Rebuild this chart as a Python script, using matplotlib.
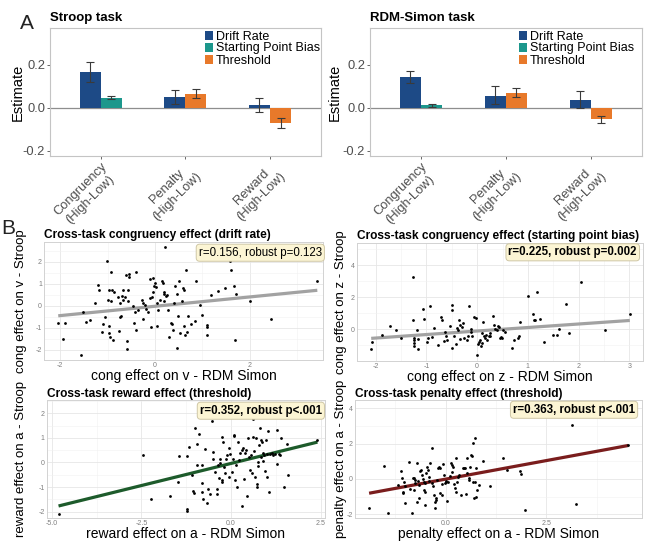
import matplotlib
matplotlib.use("Agg")
import matplotlib.pyplot as plt  # noqa: E402
import numpy as np  # noqa: E402
from matplotlib.patches import Patch  # noqa: E402
from matplotlib.ticker import (FixedLocator, FormatStrFormatter,  # noqa: E402
                               MultipleLocator)

plt.rcParams["font.family"] = ["Liberation Sans", "DejaVu Sans"]
plt.rcParams["axes.unicode_minus"] = False

W, H = 646, 544
nan = np.nan

# ---- panel A: parameter estimates (High - Low) ----
categories = ["Congruency\n(High-Low)", "Penalty\n(High-Low)", "Reward\n(High-Low)"]
params = ["Drift Rate", "Starting Point Bias", "Threshold"]
param_colors = ["#1d4a86", "#1c978c", "#e8792a"]

stroop_drift = [0.165, 0.048, 0.012]
stroop_drift_lo = [0.119, 0.016, -0.022]
stroop_drift_hi = [0.212, 0.082, 0.047]
stroop_bias = [0.047, nan, nan]
stroop_bias_lo = [0.039, nan, nan]
stroop_bias_hi = [0.056, nan, nan]
stroop_thresh = [nan, 0.064, -0.073]
stroop_thresh_lo = [nan, 0.044, -0.095]
stroop_thresh_hi = [nan, 0.086, -0.050]

simon_drift = [0.142, 0.056, 0.036]
simon_drift_lo = [0.114, 0.016, -0.003]
simon_drift_hi = [0.170, 0.100, 0.076]
simon_bias = [0.011, nan, nan]
simon_bias_lo = [0.005, nan, nan]
simon_bias_hi = [0.016, nan, nan]
simon_thresh = [nan, 0.070, -0.054]
simon_thresh_lo = [nan, 0.051, -0.073]
simon_thresh_hi = [nan, 0.090, -0.040]

# ---- panel B: cross-task individual effects ----
b1_x = [-2.04, -1.90, -1.94, -1.57, -1.51, -1.45, -1.38, -1.26, -1.21, -1.19,
        -1.12, -1.09, -1.05, -1.02, -1.00, -0.98, -0.98, -0.96, -0.95, -0.93,
        -0.92, -0.91, -0.89, -0.86, -0.77, -0.75, -0.74, -0.74, -0.72, -0.70,
        -0.68, -0.67, -0.63, -0.61, -0.60, -0.59, -0.58, -0.56, -0.54, -0.54,
        -0.46, -0.44, -0.42, -0.41, -0.40, -0.35, -0.28, -0.26, -0.25, -0.21,
        -0.18, -0.14, -0.11, -0.11, -0.09, -0.07, -0.05, -0.04, -0.02, 0.00,
        0.02, 0.04, 0.04, 0.07, 0.11, 0.14, 0.16, 0.18, 0.18, 0.19,
        0.21, 0.23, 0.26, 0.28, 0.30, 0.33, 0.35, 0.37, 0.39, 0.42,
        0.46, 0.47, 0.49, 0.51, 0.53, 0.56, 0.58, 0.60, 0.61, 0.63,
        0.65, 0.67, 0.69, 0.75, 0.84, 0.86, 0.95, 0.98, 1.09, 1.09,
        1.10, 1.18, 1.33, 1.47, 1.57, 1.61, 1.66, 1.68, 1.71, 2.01,
        2.44, 3.42]
b1_y = [-0.79, -0.79, -1.52, -2.24, -0.26, -0.73, -0.64, 0.15, 0.95, 0.73,
        -1.18, -0.83, -0.52, 2.03, 0.27, 0.73, -0.91, -1.24, -1.42, 0.20,
        1.56, 0.70, -1.58, 0.61, 0.42, -1.17, 0.12, -0.52, -0.48, 0.45,
        0.70, 0.27, 0.39, 1.42, -1.97, -1.59, 0.20, 0.73, 1.45, 1.30,
        0.00, -0.79, -0.30, -1.09, 1.55, -0.18, 0.27, -0.61, 0.12, 0.05,
        -0.15, -0.26, 1.21, 0.35, -0.97, 0.42, 0.65, 1.26, 0.91, 1.03,
        0.88, 0.15, -0.91, -0.18, 0.27, 1.11, 1.03, 0.55, 0.23, 0.61,
        2.67, 0.45, 0.50, -0.18, -1.44, -0.79, -0.83, -1.12, 0.12, 0.91,
        0.55, -1.94, -0.48, 1.12, -1.24, 0.20, 0.83, 0.73, -0.91, -1.32,
        1.62, -1.21, -0.48, -0.82, -0.71, 1.12, 0.05, -0.41, -0.86, -0.97,
        -1.33, 0.50, 0.68, 0.79, 2.06, 1.64, 0.91, -1.55, 0.53, 0.20,
        -0.58, 1.15]

b2_x = [-2.09, -2.07, -1.88, -1.72, -1.61, -1.51, -1.27, -1.26, -1.25, -1.25,
        -1.25, -1.24, -1.18, -1.17, -1.16, -1.07, -1.05, -0.99, -0.97, -0.93,
        -0.90, -0.86, -0.78, -0.71, -0.70, -0.66, -0.64, -0.61, -0.59, -0.53,
        -0.49, -0.49, -0.49, -0.46, -0.41, -0.39, -0.38, -0.36, -0.34, -0.33,
        -0.30, -0.28, -0.26, -0.20, -0.18, -0.16, -0.13, -0.12, -0.10, -0.07,
        -0.03, 0.00, 0.02, 0.03, 0.05, 0.07, 0.09, 0.10, 0.12, 0.13,
        0.16, 0.18, 0.20, 0.23, 0.25, 0.26, 0.32, 0.33, 0.36, 0.39,
        0.41, 0.43, 0.45, 0.47, 0.49, 0.51, 0.54, 0.69, 0.72, 0.81,
        0.82, 0.84, 1.01, 1.11, 1.12, 1.15, 1.17, 1.23, 1.32, 1.50,
        1.58, 1.61, 1.76, 1.81, 2.04, 2.52, 3.01]
b2_y = [-1.23, -0.83, -0.40, 0.17, -0.08, -0.56, 3.25, 0.58, -0.67, -0.88,
        -1.04, -0.58, -0.04, -0.63, -1.25, 1.25, 0.65, -0.83, -0.54, 1.44,
        -0.50, 0.06, -0.98, 0.79, 0.54, -0.77, -0.15, -0.46, -0.67, 0.21,
        1.50, 1.21, -1.21, -0.46, -0.92, 0.06, -0.08, 0.58, -0.63, 0.27,
        0.13, 0.38, -0.56, -0.67, -0.42, 1.48, 0.00, -0.21, -0.46, 0.75,
        0.69, -1.60, -0.92, -0.83, -0.71, -1.04, -0.88, -0.25, 0.46, -0.46,
        -0.56, -0.35, -0.67, -0.46, -0.42, -0.25, 0.83, 0.27, 0.00, -0.08,
        0.17, 0.13, -0.56, -0.50, -0.56, -0.04, -0.15, -1.19, -0.67, -0.56,
        -0.46, 0.42, 2.08, 0.96, 0.58, 0.58, 2.31, 0.65, -0.81, -0.35,
        -0.35, 0.00, 1.56, -0.25, 2.96, -0.08, 0.96]

b3_x = [-4.81, -2.46, -2.23, -1.70, -1.47, -1.44, -1.24, -1.24, -1.24, -1.18,
        -1.10, -1.07, -1.02, -1.00, -0.96, -0.94, -0.90, -0.82, -0.82, -0.81,
        -0.77, -0.72, -0.68, -0.63, -0.60, -0.54, -0.51, -0.51, -0.45, -0.40,
        -0.40, -0.35, -0.33, -0.31, -0.31, -0.26, -0.26, -0.26, -0.23, -0.21,
        -0.17, -0.15, -0.12, -0.07, -0.06, -0.03, 0.02, 0.05, 0.07, 0.09,
        0.11, 0.14, 0.18, 0.20, 0.23, 0.25, 0.30, 0.31, 0.33, 0.36,
        0.39, 0.42, 0.44, 0.48, 0.51, 0.53, 0.55, 0.58, 0.60, 0.62,
        0.64, 0.67, 0.70, 0.72, 0.73, 0.76, 0.76, 0.79, 0.81, 0.83,
        0.84, 0.86, 0.88, 0.90, 0.92, 0.95, 0.98, 0.99, 1.01, 1.04,
        1.07, 1.09, 1.13, 1.18, 1.23, 1.27, 1.29, 1.35, 1.37, 1.38,
        1.49, 1.55, 1.60, 2.41]
b3_y = [-2.10, 0.30, -1.49, -1.35, -0.80, 0.27, 0.25, -1.90, -1.97, 0.63,
        -0.52, -1.15, -1.26, 1.39, -0.11, 0.77, 1.15, -0.11, -0.82, -1.20,
        -1.48, 0.55, -1.65, -1.07, -1.28, 1.70, 0.44, 0.16, -0.38, -1.07,
        -1.29, -0.11, -0.63, 0.16, -0.04, -0.73, -0.80, 1.02, 0.85, -0.18,
        -0.41, 0.16, 0.30, 0.58, -0.59, 0.33, -0.38, 0.16, 1.06, 1.13,
        -0.73, -0.11, -1.00, 0.82, 0.10, 0.37, 0.51, -1.76, 0.58, -0.66,
        0.37, 0.51, -1.35, 0.99, 0.23, -0.32, 0.30, -0.43, 1.02, 1.75,
        0.47, -0.59, 0.99, -0.87, -1.00, -0.15, 0.03, 0.71, 1.40, 0.23,
        0.92, 0.85, 0.37, 0.07, 0.30, -0.36, 0.92, -0.59, 0.33, 1.26,
        -1.21, 0.33, 0.37, 0.30, 0.33, -0.08, 1.33, 0.33, 0.30, 0.99,
        -1.00, 0.74, -0.52, 0.93]

b4_x = [-1.90, -1.52, -1.42, -1.18, -1.10, -1.08, -1.07, -1.06, -1.04, -1.02,
        -1.00, -0.92, -0.88, -0.83, -0.81, -0.79, -0.79, -0.77, -0.75, -0.71,
        -0.71, -0.68, -0.67, -0.65, -0.63, -0.60, -0.58, -0.57, -0.54, -0.54,
        -0.52, -0.52, -0.50, -0.48, -0.46, -0.43, -0.42, -0.40, -0.38, -0.35,
        -0.33, -0.32, -0.29, -0.27, -0.27, -0.25, -0.23, -0.21, -0.18, -0.17,
        -0.15, -0.13, -0.10, -0.08, -0.07, -0.04, -0.02, 0.00, 0.02, 0.04,
        0.07, 0.10, 0.13, 0.15, 0.17, 0.18, 0.21, 0.23, 0.25, 0.27,
        0.29, 0.32, 0.33, 0.38, 0.42, 0.46, 0.48, 0.50, 0.52, 0.54,
        0.57, 0.58, 0.60, 0.63, 0.65, 0.68, 0.69, 0.71, 0.72, 0.73,
        0.75, 0.75, 0.79, 0.82, 0.92, 1.10, 1.43, 1.52, 1.85, 1.88,
        1.98, 3.14, 3.25, 4.54]
b4_y = [-1.66, 0.75, -1.92, -0.34, 0.45, 0.04, -0.72, -0.81, -0.19, -1.34,
        -0.38, 0.98, -0.57, -1.91, 0.04, 0.08, -0.62, -0.06, -0.25, 0.89,
        -1.32, -0.11, -0.34, -1.06, 0.45, 0.51, 0.23, 0.00, -0.15, -0.62,
        -0.72, -1.47, -0.25, 0.36, 0.70, 0.51, -0.11, 0.13, 0.92, -0.25,
        1.77, -0.38, -0.91, -1.32, -1.62, -1.19, -1.09, -0.06, 0.64, 0.70,
        0.60, -0.81, -0.30, -0.91, 0.83, 0.23, -0.25, -0.11, -0.19, -1.25,
        -0.15, 0.19, 0.89, 0.79, 0.42, 0.70, -0.30, -0.49, 1.17, -0.72,
        -0.19, 0.13, 0.23, -0.91, 0.64, 0.60, 0.64, -0.83, 0.32, 1.21,
        -0.06, 0.08, 0.70, 1.36, 1.30, 2.06, -0.15, -1.06, 2.30, -0.19,
        -1.00, 0.64, -0.62, -0.34, 1.04, -0.40, 1.17, 0.51, 0.45, 0.28,
        -1.75, 3.06, -1.42, 1.93]

# linear fits (intercept, slope) as drawn in the figure
b1_fit = (-0.02, 0.213)
b2_fit = (-0.12, 0.22)
b3_fit = (-0.04, 0.36)
b4_fit = (-0.01, 0.42)

b1_stat = "r=0.156, robust p=0.123"
b2_stat = "r=0.225, robust p=0.002"
b3_stat = "r=0.352, robust p<.001"
b4_stat = "r=0.363, robust p<.001"

fig = plt.figure(figsize=(W / 100, H / 100), dpi=100)


def px_axes(x0, y0, x1, y1):
    return fig.add_axes([x0 / W, 1 - y1 / H, (x1 - x0) / W, (y1 - y0) / H])


def bar_panel(ax, title, series, legend_px, ylab_x):
    bar_w = 0.25
    for i in range(len(categories)):
        present = [k for k in range(len(params)) if not np.isnan(series[k][0][i])]
        offs = (np.arange(len(present)) - (len(present) - 1) / 2) * bar_w
        for k, o in zip(present, offs):
            est, lo, hi = (s[i] for s in series[k])
            ax.bar(i + 1 + o, est, width=bar_w, color=param_colors[k],
                   edgecolor="none", zorder=2)
            ax.errorbar(i + 1 + o, est, yerr=[[est - lo], [hi - est]],
                        fmt="none", ecolor="#3a3a3a", elinewidth=0.8,
                        capsize=3.2, capthick=0.8, zorder=3)
    ax.axhline(0, color="#8e8e8e", lw=0.9, zorder=1)
    ax.set_xlim(0.4, 3.6)
    ax.set_ylim(-0.224, 0.37)
    ax.set_yticks([-0.2, 0.0, 0.2])
    ax.yaxis.set_major_formatter(FormatStrFormatter("%.1f"))
    ax.set_xticks(np.arange(1, len(categories) + 1))
    ax.set_xticklabels(categories, rotation=45, ha="right", va="top",
                       rotation_mode="anchor", multialignment="center")
    ax.tick_params(labelsize=9.3, colors="#4d4d4d", length=2, width=0.6,
                   pad=1.5)
    for sp in ax.spines.values():
        sp.set_color("#c4c4c4")
        sp.set_linewidth(0.8)
    ax.set_ylabel("Estimate", fontsize=10.5)
    ax.yaxis.set_label_coords(ylab_x, 0.5)
    ax.set_title(title, loc="left", fontsize=9.5, fontweight="bold", pad=5.5)
    handles = [Patch(facecolor=c, edgecolor="none") for c in param_colors]
    ax.legend(handles, params, loc="upper left",
              bbox_to_anchor=(legend_px[0] / W, 1 - legend_px[1] / H),
              bbox_transform=fig.transFigure, frameon=False, fontsize=9,
              handlelength=0.6, handleheight=0.75, handletextpad=0.25,
              labelspacing=0.0, borderpad=0, borderaxespad=0)


def scatter_panel(ax, title, x, y, fit, color, stat, bold, xlabel, ylabel,
                  xlim, ylim, xticks, yticks, xfmt, stat_xy, ylab_x, tpad):
    x = np.asarray(x)
    y = np.asarray(y)
    ax.scatter(x, y, s=4, color="black", linewidths=0, zorder=3)
    xs = np.array([x.min(), x.max()])
    ax.plot(xs, fit[0] + fit[1] * xs, color=color, lw=2.3,
            solid_capstyle="butt", zorder=2)
    ax.set_xlim(*xlim)
    ax.set_ylim(*ylim)
    ax.xaxis.set_major_locator(FixedLocator(xticks))
    ax.yaxis.set_major_locator(FixedLocator(yticks))
    xstep = xticks[1] - xticks[0]
    ystep = yticks[1] - yticks[0]
    ax.xaxis.set_minor_locator(MultipleLocator(xstep / 2))
    ax.yaxis.set_minor_locator(MultipleLocator(ystep / 2))
    ax.xaxis.set_major_formatter(FormatStrFormatter(xfmt))
    ax.yaxis.set_major_formatter(FormatStrFormatter("%g"))
    ax.grid(which="major", color="#e6e6e6", lw=0.6, zorder=0)
    ax.grid(which="minor", color="#f1f1f1", lw=0.4, zorder=0)
    ax.set_axisbelow(True)
    ax.tick_params(which="both", length=0, labelsize=5, colors="#7f7f7f",
                   pad=1.5)
    for sp in ax.spines.values():
        sp.set_color("#d2d2d2")
        sp.set_linewidth(0.7)
    ax.set_xlabel(xlabel, fontsize=10)
    ax.xaxis.set_label_coords(0.5, -0.075)
    ax.set_ylabel(ylabel, fontsize=9.5)
    ax.yaxis.set_label_coords(ylab_x, 0.5)
    ax.set_title(title, loc="left", fontsize=8.55, fontweight="bold", pad=tpad)
    ax.text(stat_xy[0], stat_xy[1], stat, transform=ax.transAxes,
            ha="right", va="top", fontsize=8.3,
            fontweight="bold" if bold else "normal", zorder=5,
            bbox=dict(boxstyle="round,pad=0.22,rounding_size=0.3",
                      fc="#fcf5d4", ec="#cfc7a6", lw=0.7))


# panel A
ax_a1 = px_axes(50, 28.3, 320.7, 155.7)
bar_panel(ax_a1, "Stroop task",
          [(stroop_drift, stroop_drift_lo, stroop_drift_hi),
           (stroop_bias, stroop_bias_lo, stroop_bias_hi),
           (stroop_thresh, stroop_thresh_lo, stroop_thresh_hi)],
          (205, 30.5), -0.092)
ax_a2 = px_axes(370, 28.3, 641.7, 155.7)
bar_panel(ax_a2, "RDM-Simon task",
          [(simon_drift, simon_drift_lo, simon_drift_hi),
           (simon_bias, simon_bias_lo, simon_bias_hi),
           (simon_thresh, simon_thresh_lo, simon_thresh_hi)],
          (519, 30.5), -0.103)

# panel B
ax_b1 = px_axes(44, 242, 323, 360)
scatter_panel(ax_b1, "Cross-task congruency effect (drift rate)", b1_x, b1_y,
              b1_fit, "#a2a2a2", b1_stat, False,
              "cong effect on v - RDM Simon", "cong effect on v - Stroop",
              (-2.34, 3.54), (-2.47, 2.91), [-2, 0, 2], [-2, -1, 0, 1, 2],
              "%g", (0.996, 0.96), -0.0627, 2.7)
ax_b2 = px_axes(357, 243, 643, 361)
scatter_panel(ax_b2, "Cross-task congruency effect (starting point bias)",
              b2_x, b2_y, b2_fit, "#a2a2a2", b2_stat, True,
              "cong effect on z - RDM Simon", "cong effect on z - Stroop",
              (-2.37, 3.27), (-2.0, 5.4), [-2, -1, 0, 1, 2, 3], [0, 2, 4],
              "%g", (0.979, 0.972), -0.035, 3.2)
ax_b3 = px_axes(46.7, 400, 325, 518)
scatter_panel(ax_b3, "Cross-task reward effect (threshold)", b3_x, b3_y,
              b3_fit, "#1d5b2b", b3_stat, True,
              "reward effect on a - RDM Simon", "reward effect on a - Stroop",
              (-5.14, 2.62), (-2.26, 2.54), [-5.0, -2.5, 0.0, 2.5],
              [-2, -1, 0, 1, 2], "%.1f", (0.989, 0.96), -0.071, 1.8)
ax_b4 = px_axes(355, 400, 641.7, 518)
scatter_panel(ax_b4, "Cross-task penalty effect (threshold)", b4_x, b4_y,
              b4_fit, "#7a1d1d", b4_stat, True,
              "penalty effect on a - RDM Simon", "penalty effect on a - Stroop",
              (-2.25, 4.87), (-2.21, 4.47), [0.0, 2.5], [-2, 0, 2, 4],
              "%.1f", (0.977, 0.968), -0.028, 2.5)
ax_b4.xaxis.set_minor_locator(FixedLocator([-1.25, 1.25, 3.75]))

fig.text(20 / W, 1 - 29 / H, "A", fontsize=15, color="#222222", va="baseline")
fig.text(1 / W, 1 - 234 / H, "B", fontsize=15, color="#222222", va="baseline")

fig.savefig("out.png", dpi=100)
